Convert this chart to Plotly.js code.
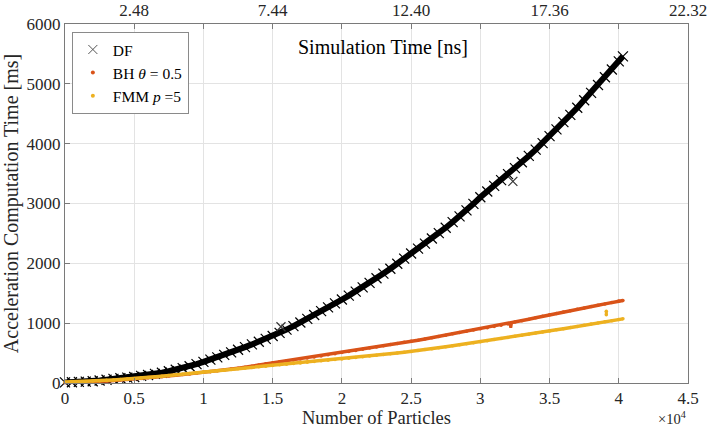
<!DOCTYPE html>
<html>
<head>
<meta charset="utf-8">
<script src="https://cdn.plot.ly/plotly-3.0.1.min.js"></script>
<style>
  html, body { margin: 0; padding: 0; background: #fff; }
  #chart { width: 709px; height: 428px; }
</style>
</head>
<body>
<div id="chart"></div>
<script>
// number of particles, one reading every 500
const particles = [
  0, 500, 1000, 1500, 2000, 2500, 3000, 3500, 4000, 4500,
  5000, 5500, 6000, 6500, 7000, 7500, 8000, 8500, 9000, 9500,
  10000, 10500, 11000, 11500, 12000, 12500, 13000, 13500, 14000, 14500,
  15000, 15500, 16000, 16500, 17000, 17500, 18000, 18500, 19000, 19500,
  20000, 20500, 21000, 21500, 22000, 22500, 23000, 23500, 24000, 24500,
  25000, 25500, 26000, 26500, 27000, 27500, 28000, 28500, 29000, 29500,
  30000, 30500, 31000, 31500, 32000, 32500, 33000, 33500, 34000, 34500,
  35000, 35500, 36000, 36500, 37000, 37500, 38000, 38500, 39000, 39500,
  40000, 40300
];

// acceleration computation time [ms]
const dfTime = [
  10, 12, 18, 22, 30, 42, 55, 68, 80, 90,
  100, 118, 134, 152, 172, 196, 222, 248, 280, 316,
  352, 390, 428, 470, 512, 555, 600, 645, 690, 738,
  786, 838, 893, 951, 1011, 1073, 1136, 1200, 1265, 1330,
  1395, 1460, 1528, 1599, 1673, 1750, 1829, 1910, 1993, 2078,
  2165, 2245, 2330, 2415, 2505, 2595, 2690, 2785, 2885, 2995,
  3105, 3200, 3295, 3390, 3490, 3590, 3690, 3795, 3900, 4010,
  4125, 4240, 4360, 4480, 4600, 4725, 4850, 4980, 5110, 5240,
  5375, 5460
];

const bhTime = [
  5, 8, 12, 17, 22, 28, 35, 42, 50, 58,
  67, 76, 86, 96, 106, 117, 128, 140, 152, 164,
  178, 190, 204, 218, 232, 248, 264, 282, 300, 320,
  340, 354, 368, 385, 400, 418, 435, 452, 472, 490,
  508, 525, 545, 565, 585, 603, 622, 642, 660, 680,
  697, 715, 736, 758, 778, 800, 822, 845, 865, 885,
  905, 925, 945, 965, 985, 1020, 1040, 1065, 1090, 1115,
  1140, 1162, 1185, 1208, 1232, 1255, 1278, 1300, 1322, 1345,
  1370, 1380
];

const fmmTime = [
  15, 18, 22, 27, 32, 38, 44, 51, 58, 66,
  75, 84, 94, 104, 114, 125, 136, 147, 158, 170,
  182, 193, 204, 215, 226, 237, 248, 259, 270, 281,
  292, 303, 314, 325, 336, 348, 359, 370, 381, 392,
  402, 414, 426, 438, 450, 463, 476, 489, 502, 515,
  528, 543, 558, 574, 590, 606, 622, 639, 656, 673,
  690, 708, 726, 744, 762, 780, 798, 816, 834, 852,
  870, 889, 908, 927, 946, 965, 984, 1003, 1022, 1042,
  1062, 1072
];

// stray readings
const dfOutN = [15600, 32350];
const dfOutT = [940, 3370];
const bhOutN = [32150, 32200, 32250];
const bhOutT = [985, 925, 1000];
const fmmOutN = [39100, 39100];
const fmmOutT = [1140, 1200];

// top axis: simulation time [ns]
const simTicks = [2.48, 4.96, 7.44, 9.92, 12.40, 14.88, 17.36, 19.84, 22.32];
const simLabels = ["2.48", "", "7.44", "", "12.40", "", "17.36", "", "22.32"];

const SERIES = ["DF", "BH <i>θ</i> = 0.5", "FMM <i>p</i> =5"];
const DF_COLOR = "#000000";
const BH_COLOR = "#D95319";
const FMM_COLOR = "#EDB120";
const AXIS_COLOR = "#7a7a7a";
const GRID_COLOR = "#e3e3e3";
const FONT = "Liberation Serif";

const scaled = (arr) => arr.map((n) => n / 1e4);

const data = [
  {
    x: scaled(particles), y: dfTime, type: "scatter", mode: "lines+markers",
    line: { color: DF_COLOR, width: 6 },
    marker: { symbol: "x-thin-open", size: 10, color: DF_COLOR, line: { color: DF_COLOR, width: 1.2 } },
    showlegend: false, hoverinfo: "skip", cliponaxis: false
  },
  {
    x: scaled(dfOutN), y: dfOutT, type: "scatter", mode: "markers",
    marker: { symbol: "x-thin-open", size: 9, color: "#333", line: { color: "#333", width: 1.2 } },
    showlegend: false, hoverinfo: "skip"
  },
  {
    x: scaled(particles), y: bhTime, type: "scatter", mode: "lines+markers",
    line: { color: BH_COLOR, width: 3.5 },
    marker: { symbol: "circle", size: 3.5, color: BH_COLOR },
    showlegend: false, hoverinfo: "skip", cliponaxis: false
  },
  {
    x: scaled(bhOutN), y: bhOutT, type: "scatter", mode: "lines",
    line: { color: BH_COLOR, width: 3 },
    showlegend: false, hoverinfo: "skip"
  },
  {
    x: scaled(particles), y: fmmTime, type: "scatter", mode: "lines+markers",
    line: { color: FMM_COLOR, width: 3.5 },
    marker: { symbol: "circle", size: 3.5, color: FMM_COLOR },
    showlegend: false, hoverinfo: "skip", cliponaxis: false
  },
  {
    x: scaled(fmmOutN), y: fmmOutT, type: "scatter", mode: "lines+markers",
    line: { color: FMM_COLOR, width: 3 },
    marker: { symbol: "circle", size: 3.5, color: FMM_COLOR },
    showlegend: false, hoverinfo: "skip"
  },
  // legend entries only
  {
    x: [null], y: [null], xaxis: "x2", type: "scatter", mode: "markers", name: SERIES[0],
    marker: { symbol: "x-thin-open", size: 9, color: "#555", line: { color: "#555", width: 1 } }
  },
  {
    x: [null], y: [null], xaxis: "x2", type: "scatter", mode: "markers", name: SERIES[1],
    marker: { symbol: "circle", size: 4, color: BH_COLOR }
  },
  {
    x: [null], y: [null], xaxis: "x2", type: "scatter", mode: "markers", name: SERIES[2],
    marker: { symbol: "circle", size: 4, color: FMM_COLOR }
  }
];

const axisCommon = {
  showline: true,
  linecolor: AXIS_COLOR,
  linewidth: 1,
  ticks: "inside",
  ticklen: 5,
  tickcolor: AXIS_COLOR,
  zeroline: false,
  tickfont: { family: FONT, size: 17, color: "#262626" }
};

const layout = {
  width: 709,
  height: 428,
  margin: { t: 24, r: 21, b: 45, l: 65 },
  paper_bgcolor: "#ffffff",
  plot_bgcolor: "#ffffff",
  font: { family: FONT, color: "#262626" },
  xaxis: {
    ...axisCommon,
    range: [0, 4.5],
    tickvals: [0, 0.5, 1, 1.5, 2, 2.5, 3, 3.5, 4, 4.5],
    ticktext: ["0", "0.5", "1", "1.5", "2", "2.5", "3", "3.5", "4", "4.5"],
    showgrid: true,
    gridcolor: GRID_COLOR,
    title: { text: "Number of Particles", font: { family: FONT, size: 18.5 }, standoff: 8 }
  },
  xaxis2: {
    ...axisCommon,
    overlaying: "x",
    anchor: "y",
    side: "top",
    range: [0, 22.32],
    tickvals: simTicks,
    ticktext: simLabels,
    showgrid: false
  },
  yaxis: {
    ...axisCommon,
    range: [0, 6000],
    tickvals: [0, 1000, 2000, 3000, 4000, 5000, 6000],
    showgrid: true,
    gridcolor: GRID_COLOR,
    mirror: true,
    title: { text: "Acceleration Computation Time [ms]", font: { family: FONT, size: 20 }, standoff: 5 }
  },
  showlegend: true,
  legend: {
    x: 0.011,
    y: 0.978,
    xanchor: "left",
    yanchor: "top",
    bgcolor: "#ffffff",
    bordercolor: "#8a8a8a",
    borderwidth: 1,
    font: { family: FONT, size: 15.5, color: "#000" },
    itemwidth: 30,
    tracegroupgap: 0
  },
  annotations: [
    {
      text: "Simulation Time [ns]",
      xref: "paper", yref: "paper",
      x: 0.51, y: 0.935,
      xanchor: "center", yanchor: "middle",
      showarrow: false,
      font: { family: FONT, size: 20, color: "#000" }
    },
    {
      text: "×10<sup>4</sup>",
      xref: "paper", yref: "paper",
      x: 1.0, y: -0.067,
      xanchor: "right", yanchor: "top",
      showarrow: false,
      font: { family: FONT, size: 14.5, color: "#262626" }
    }
  ]
};

Plotly.newPlot("chart", data, layout, { displayModeBar: false, staticPlot: true });
</script>
</body>
</html>
